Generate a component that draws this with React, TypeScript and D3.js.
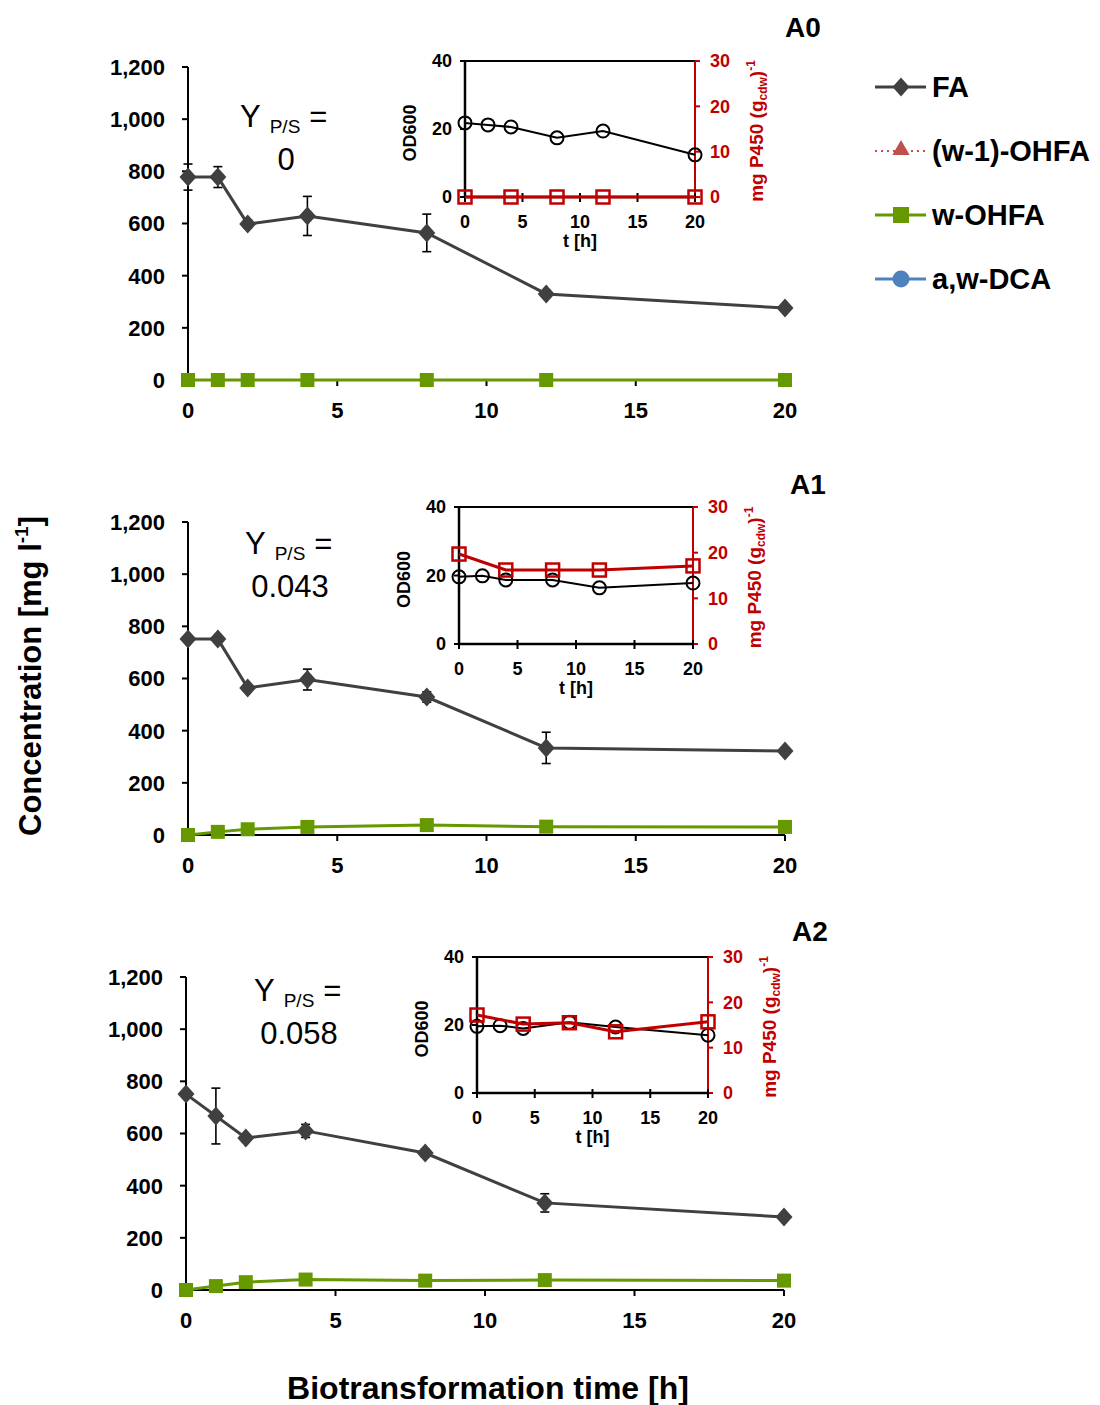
import React from "react";
import * as d3 from "d3";

// ---------- data ----------
const mainTimes = [0, 1, 2, 4, 8, 12, 20];
const panelNames = ["A0", "A1", "A2"];
const yieldValues = ["0", "0.043", "0.058"];

const faA0 = [778, 778, 598, 629, 564, 330, 276];
const faA0Err = [50, 40, 15, 75, 72, 10, 0];
const wOhfaA0 = [0, 0, 0, 0, 0, 0, 0];

const faA1 = [751, 751, 564, 596, 529, 334, 322];
const faA1Err = [0, 0, 10, 40, 20, 60, 0];
const wOhfaA1 = [0, 12, 22, 31, 38, 32, 31];

const faA2 = [751, 667, 583, 610, 525, 334, 280];
const faA2Err = [0, 107, 10, 25, 15, 35, 0];
const wOhfaA2 = [0, 15, 30, 40, 36, 38, 36];

const odTimes = [0, 2, 4, 8, 12, 20];
const p450Times = [0, 4, 8, 12, 20];
const odA0 = [21.8, 21.2, 20.6, 17.4, 19.4, 12.4];
const p450A0 = [0, 0, 0, 0, 0];
const odA1 = [19.6, 19.9, 18.7, 18.7, 16.4, 17.8];
const p450A1 = [19.7, 16.2, 16.2, 16.2, 17.1];
const odA2 = [19.6, 19.8, 19.0, 20.8, 19.4, 17.0];
const p450A2 = [17.2, 15.2, 15.5, 13.5, 15.7];

const legendLabels = ["FA", "(w-1)-OHFA", "w-OHFA", "a,w-DCA"];
const mainYTicks = [0, 200, 400, 600, 800, 1000, 1200];
const mainXTicks = [0, 5, 10, 15, 20];
const insetODTicks = [0, 20, 40];
const insetP450Ticks = [0, 10, 20, 30];

const FONT = "'Liberation Sans', Arial, Helvetica, sans-serif";
const C_FA = "#404040";
const C_GREEN = "#669900";
const C_RED = "#c00000";
const C_LRED = "#c0504d";
const C_BLUE = "#4f81bd";

const panels = [
  { fa: faA0, err: faA0Err, w: wOhfaA0, od: odA0, p450: p450A0,
    box: { l: 188, r: 785, t: 67, b: 380 },
    inset: { l: 465, r: 695, t: 61, b: 197 },
    label: { x: 785, y: 37 },
    yps: { x: 240, y: 127, vx: 286, vy: 170 } },
  { fa: faA1, err: faA1Err, w: wOhfaA1, od: odA1, p450: p450A1,
    box: { l: 188, r: 785, t: 522, b: 835 },
    inset: { l: 459, r: 693, t: 507, b: 644 },
    label: { x: 790, y: 494 },
    yps: { x: 245, y: 554, vx: 290, vy: 597 } },
  { fa: faA2, err: faA2Err, w: wOhfaA2, od: odA2, p450: p450A2,
    box: { l: 186, r: 784, t: 977, b: 1290 },
    inset: { l: 477, r: 708, t: 957, b: 1093 },
    label: { x: 792, y: 941 },
    yps: { x: 254, y: 1001, vx: 299, vy: 1044 } },
];

const diamond = (x: number, y: number, hw = 8.5, hh = 9.5) =>
  `M${x},${y - hh}L${x + hw},${y}L${x},${y + hh}L${x - hw},${y}Z`;

function MainPanel({ p, i }: { p: any; i: number }) {
  const { box } = p;
  const x = d3.scaleLinear().domain([0, 20]).range([box.l, box.r]);
  const y = d3.scaleLinear().domain([0, 1200]).range([box.b, box.t]);
  const fmt = d3.format(",");
  const lineFA = d3.line<number>().x((_, k) => x(mainTimes[k])).y((d) => y(d));
  const lineW = d3.line<number>().x((_, k) => x(mainTimes[k])).y((d) => y(d));
  return (
    <g>
      <line x1={box.l} x2={box.l} y1={box.t} y2={box.b} stroke="#000" strokeWidth={2} />
      <line x1={box.l} x2={box.r} y1={box.b} y2={box.b} stroke="#000" strokeWidth={2} />
      {mainYTicks.map((t) => (
        <g key={"y" + t}>
          <line x1={box.l - 6} x2={box.l} y1={y(t)} y2={y(t)} stroke="#000" strokeWidth={2} />
          <text x={box.l - 23} y={y(t)} dy="0.36em" textAnchor="end" fontSize={22} fontWeight="bold" fontFamily={FONT}>
            {fmt(t)}
          </text>
        </g>
      ))}
      {mainXTicks.map((t) => (
        <g key={"x" + t}>
          <line x1={x(t)} x2={x(t)} y1={box.b} y2={box.b + 6} stroke="#000" strokeWidth={2} />
          <text x={x(t)} y={box.b + 38} textAnchor="middle" fontSize={22} fontWeight="bold" fontFamily={FONT}>
            {t}
          </text>
        </g>
      ))}
      <path d={lineW(p.w) || ""} fill="none" stroke={C_GREEN} strokeWidth={3} />
      {p.w.map((v: number, k: number) => (
        <rect key={"w" + k} x={x(mainTimes[k]) - 7} y={y(v) - 7} width={14} height={14} fill={C_GREEN} />
      ))}
      <path d={lineFA(p.fa) || ""} fill="none" stroke={C_FA} strokeWidth={3} />
      {p.fa.map((v: number, k: number) =>
        p.err[k] > 0 ? (
          <g key={"e" + k} stroke="#000" strokeWidth={1.6}>
            <line x1={x(mainTimes[k])} x2={x(mainTimes[k])} y1={y(v + p.err[k])} y2={y(v - p.err[k])} />
            <line x1={x(mainTimes[k]) - 4.5} x2={x(mainTimes[k]) + 4.5} y1={y(v + p.err[k])} y2={y(v + p.err[k])} />
            <line x1={x(mainTimes[k]) - 4.5} x2={x(mainTimes[k]) + 4.5} y1={y(v - p.err[k])} y2={y(v - p.err[k])} />
          </g>
        ) : null
      )}
      {p.fa.map((v: number, k: number) => (
        <path key={"d" + k} d={diamond(x(mainTimes[k]), y(v))} fill={C_FA} />
      ))}
      <text x={p.label.x} y={p.label.y} fontSize={28} fontWeight="bold" fontFamily={FONT}>
        {panelNames[i]}
      </text>
      <text x={p.yps.x} y={p.yps.y} fontSize={31} fontFamily={FONT}>
        Y
        <tspan fontSize={19} dx={9} dy={6}>P/S</tspan>
        <tspan dx={9} dy={-6}>=</tspan>
      </text>
      <text x={p.yps.vx} y={p.yps.vy} fontSize={31} fontFamily={FONT} textAnchor="middle">
        {yieldValues[i]}
      </text>
    </g>
  );
}

function Inset({ p }: { p: any }) {
  const b = p.inset;
  const x = d3.scaleLinear().domain([0, 20]).range([b.l, b.r]);
  const yL = d3.scaleLinear().domain([0, 40]).range([b.b, b.t]);
  const yR = d3.scaleLinear().domain([0, 30]).range([b.b, b.t]);
  const lineOD = d3.line<number>().x((_, k) => x(odTimes[k])).y((d) => yL(d));
  const lineP = d3.line<number>().x((_, k) => x(p450Times[k])).y((d) => yR(d));
  const midY = (b.t + b.b) / 2;
  return (
    <g fontFamily={FONT} fontWeight="bold">
      <line x1={b.l} x2={b.r} y1={b.t} y2={b.t} stroke="#000" strokeWidth={2} />
      <line x1={b.l} x2={b.l} y1={b.t} y2={b.b} stroke="#000" strokeWidth={2.5} />
      <line x1={b.r} x2={b.r} y1={b.t} y2={b.b} stroke={C_RED} strokeWidth={2} />
      <line x1={b.l} x2={b.r} y1={b.b} y2={b.b} stroke="#000" strokeWidth={2.5} />
      {insetODTicks.map((t) => (
        <g key={"l" + t}>
          <line x1={b.l - 5} x2={b.l} y1={yL(t)} y2={yL(t)} stroke="#000" strokeWidth={2} />
          <text x={b.l - 13} y={yL(t)} dy="0.36em" textAnchor="end" fontSize={18}>{t}</text>
        </g>
      ))}
      {insetP450Ticks.map((t) => (
        <g key={"r" + t}>
          <line x1={b.r} x2={b.r + 5} y1={yR(t)} y2={yR(t)} stroke={C_RED} strokeWidth={2} />
          <text x={b.r + 15} y={yR(t)} dy="0.36em" textAnchor="start" fontSize={18} fill={C_RED}>{t}</text>
        </g>
      ))}
      {mainXTicks.map((t) => (
        <g key={"x" + t}>
          <line x1={x(t)} x2={x(t)} y1={b.b - 4} y2={b.b + 5} stroke="#000" strokeWidth={2} />
          <text x={x(t)} y={b.b + 25} dy="0.36em" textAnchor="middle" fontSize={18}>{t}</text>
        </g>
      ))}
      <text x={(b.l + b.r) / 2} y={b.b + 44} dy="0.36em" textAnchor="middle" fontSize={18}>t [h]</text>
      <text transform={`translate(${b.l - 49},${midY + 4}) rotate(-90)`} textAnchor="middle" fontSize={18}>OD600</text>
      <text transform={`translate(${b.r + 68},${midY + 2}) rotate(-90)`} textAnchor="middle" fontSize={19} fill={C_RED}>
        mg P450 (g<tspan fontSize={12} dy={4}>cdw</tspan><tspan dy={-4}>)</tspan><tspan fontSize={12} dy={-8}>-1</tspan>
      </text>
      <path d={lineOD(p.od) || ""} fill="none" stroke="#000" strokeWidth={2} />
      {p.od.map((v: number, k: number) => (
        <circle key={"o" + k} cx={x(odTimes[k])} cy={yL(v)} r={6.5} fill="none" stroke="#000" strokeWidth={2} />
      ))}
      <path d={lineP(p.p450) || ""} fill="none" stroke={C_RED} strokeWidth={3} />
      {p.p450.map((v: number, k: number) => (
        <rect key={"p" + k} x={x(p450Times[k]) - 6.5} y={yR(v) - 6.5} width={13} height={13} fill="none" stroke={C_RED} strokeWidth={2.5} />
      ))}
    </g>
  );
}

function Legend() {
  const rows = [87, 151, 215, 279];
  const x1 = 875, x2 = 926, xm = 901, tx = 932;
  return (
    <g fontFamily={FONT} fontWeight="bold">
      <line x1={x1} x2={x2} y1={rows[0]} y2={rows[0]} stroke={C_FA} strokeWidth={3} />
      <path d={diamond(xm, rows[0])} fill={C_FA} />
      <line x1={x1} x2={x2} y1={rows[1]} y2={rows[1]} stroke={C_LRED} strokeWidth={2} strokeDasharray="2,4" />
      <path d={d3.symbol().type(d3.symbolTriangle).size(130)() || ""} transform={`translate(${xm},${rows[1] - 1})`} fill={C_LRED} />
      <line x1={x1} x2={x2} y1={rows[2]} y2={rows[2]} stroke={C_GREEN} strokeWidth={3} />
      <rect x={xm - 8} y={rows[2] - 8} width={16} height={16} fill={C_GREEN} />
      <line x1={x1} x2={x2} y1={rows[3]} y2={rows[3]} stroke={C_BLUE} strokeWidth={3} />
      <circle cx={xm} cy={rows[3]} r={8.5} fill={C_BLUE} />
      {legendLabels.map((l, k) => (
        <text key={l} x={tx} y={rows[k]} dy="0.36em" fontSize={29}>{l}</text>
      ))}
    </g>
  );
}

export default function App() {
  return (
    <svg width={1100} height={1405} style={{ position: "absolute", left: 0, top: 0, background: "#fff" }}>
      <rect width={1100} height={1405} fill="#fff" />
      {panels.map((p, i) => (
        <MainPanel key={i} p={p} i={i} />
      ))}
      {panels.map((p, i) => (
        <Inset key={"in" + i} p={p} />
      ))}
      <Legend />
      <text transform="translate(41,676) rotate(-90)" textAnchor="middle" fontSize={31} fontWeight="bold" fontFamily={FONT}>
        Concentration [mg l<tspan fontSize={19} dy={-13}>-1</tspan><tspan dy={13}>]</tspan>
      </text>
      <text x={488} y={1399} textAnchor="middle" fontSize={32} fontWeight="bold" fontFamily={FONT}>
        Biotransformation time [h]
      </text>
    </svg>
  );
}
